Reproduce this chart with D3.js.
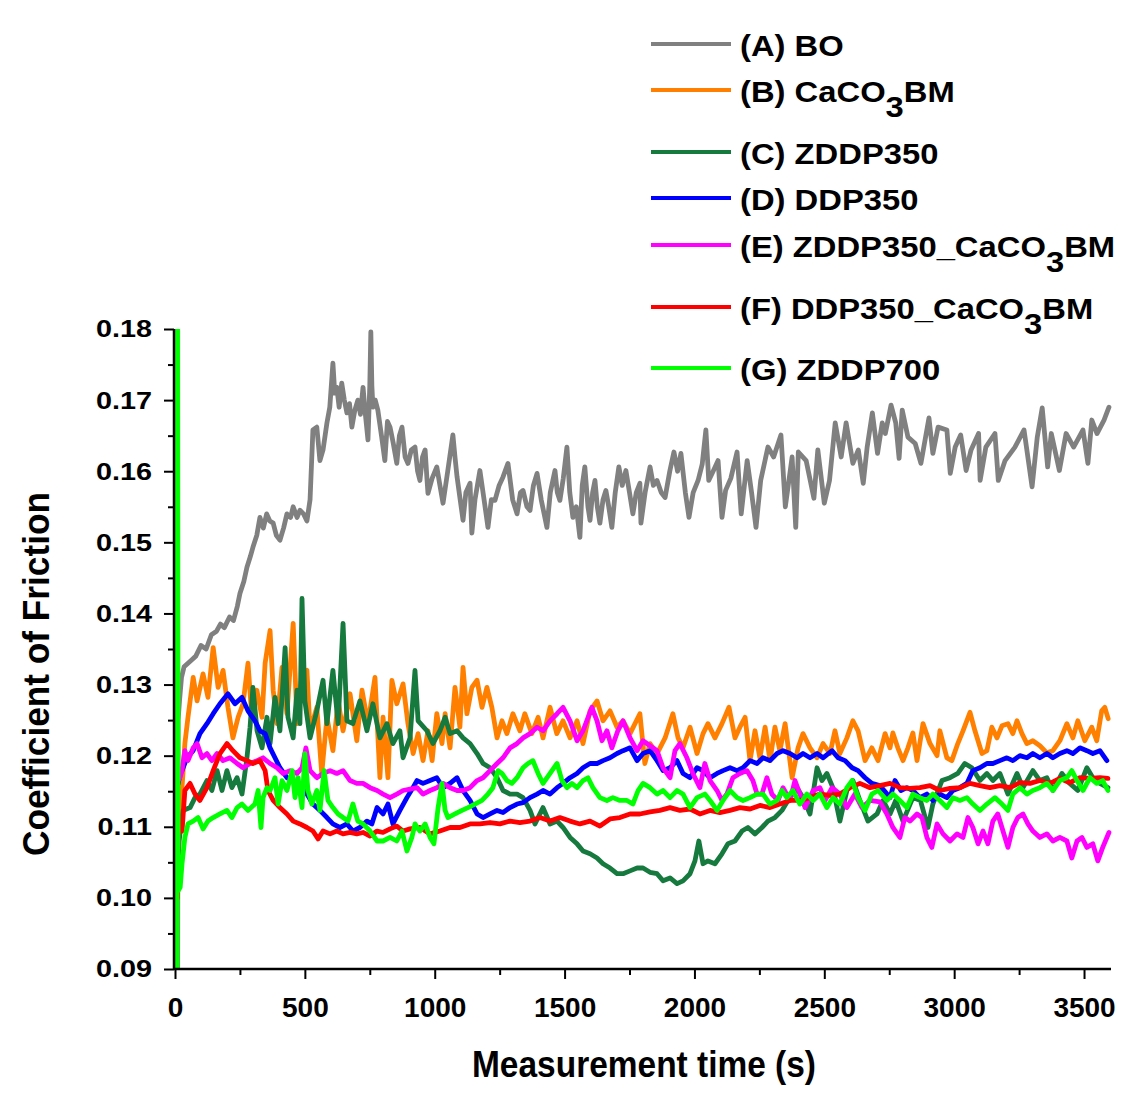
<!DOCTYPE html>
<html>
<head>
<meta charset="utf-8">
<script src="https://cdn.jsdelivr.net/npm/d3@7/dist/d3.min.js"></script>
<style>
  html, body { margin: 0; padding: 0; background: #ffffff; }
  svg { display: block; }
  text { font-family: "Liberation Sans", Arial, sans-serif; font-weight: bold; fill: #000; }
</style>
</head>
<body>
<svg id="chart" width="1135" height="1110"></svg>
<script>
// Coefficient of friction vs. measurement time, [time (s), COF] pairs per oil sample
const seriesBO = [[10,0.088],[12,0.125],[18,0.128],[25,0.131],[35,0.1325],[50,0.133],[65,0.1335],[80,0.134],[100,0.1355],[120,0.135],[140,0.137],[160,0.1375],[175,0.1385],[190,0.138],[210,0.1395],[225,0.139],[240,0.141],[250,0.1428],[265,0.1445],[277,0.1465],[290,0.148],[300,0.1493],[315,0.151],[327,0.1535],[340,0.152],[353,0.154],[365,0.153],[378,0.1527],[390,0.151],[404,0.1503],[418,0.152],[431,0.154],[445,0.1535],[455,0.155],[470,0.1535],[481,0.1545],[495,0.154],[508,0.153],[520,0.156],[531,0.1658],[546,0.1662],[558,0.1615],[570,0.163],[585,0.1668],[596,0.169],[608,0.1752],[615,0.171],[623,0.1718],[632,0.169],[642,0.1724],[652,0.170],[662,0.1682],[672,0.1695],[681,0.1662],[692,0.1685],[704,0.170],[714,0.168],[724,0.1718],[733,0.168],[743,0.1644],[750,0.172],[754,0.1796],[758,0.172],[762,0.169],[771,0.170],[781,0.1686],[795,0.165],[808,0.1615],[818,0.167],[828,0.1662],[840,0.164],[854,0.1611],[864,0.165],[874,0.1662],[886,0.162],[897,0.1611],[910,0.163],[924,0.1634],[934,0.160],[943,0.1587],[953,0.162],[963,0.163],[970,0.159],[974,0.1569],[990,0.159],[1008,0.1606],[1020,0.158],[1032,0.1555],[1050,0.160],[1070,0.1651],[1078,0.162],[1086,0.1592],[1098,0.156],[1109,0.1531],[1120,0.157],[1136,0.1583],[1143,0.1513],[1155,0.156],[1174,0.1601],[1190,0.156],[1205,0.1521],[1218,0.156],[1232,0.1559],[1248,0.158],[1263,0.1592],[1282,0.1611],[1300,0.156],[1317,0.154],[1330,0.157],[1340,0.1573],[1355,0.155],[1367,0.1545],[1380,0.158],[1394,0.1597],[1410,0.156],[1432,0.1521],[1445,0.157],[1463,0.1601],[1472,0.157],[1482,0.1559],[1495,0.159],[1509,0.1634],[1520,0.157],[1532,0.1535],[1545,0.155],[1559,0.1507],[1568,0.158],[1578,0.1606],[1590,0.155],[1598,0.1531],[1608,0.157],[1617,0.1587],[1626,0.155],[1636,0.1527],[1648,0.156],[1659,0.1573],[1670,0.155],[1682,0.1521],[1695,0.157],[1709,0.1606],[1722,0.158],[1736,0.1601],[1750,0.157],[1763,0.154],[1776,0.157],[1790,0.1583],[1794,0.1527],[1810,0.157],[1829,0.1606],[1842,0.158],[1856,0.1587],[1872,0.157],[1887,0.1563],[1905,0.160],[1921,0.1627],[1935,0.160],[1948,0.1625],[1965,0.157],[1979,0.1535],[1995,0.157],[2014,0.1587],[2030,0.161],[2044,0.1658],[2055,0.1587],[2072,0.160],[2091,0.1615],[2106,0.1535],[2120,0.1573],[2140,0.159],[2164,0.1627],[2180,0.154],[2203,0.1615],[2220,0.157],[2237,0.1521],[2255,0.1587],[2283,0.1634],[2305,0.162],[2333,0.1651],[2350,0.155],[2376,0.162],[2390,0.1521],[2400,0.1627],[2430,0.1615],[2460,0.1562],[2475,0.163],[2500,0.1555],[2520,0.1587],[2542,0.1668],[2565,0.162],[2584,0.1668],[2610,0.1611],[2631,0.163],[2650,0.1583],[2665,0.1634],[2685,0.1682],[2705,0.1625],[2723,0.1668],[2735,0.1653],[2757,0.1693],[2775,0.1668],[2788,0.1618],[2800,0.1686],[2822,0.1648],[2850,0.1639],[2872,0.1611],[2903,0.1675],[2918,0.1625],[2938,0.1662],[2972,0.1658],[2985,0.1597],[3004,0.1634],[3025,0.1651],[3046,0.1601],[3065,0.163],[3094,0.1653],[3100,0.1587],[3122,0.1634],[3157,0.1653],[3170,0.1587],[3196,0.1615],[3234,0.1634],[3269,0.1658],[3300,0.1578],[3320,0.1648],[3339,0.1689],[3360,0.1606],[3374,0.1653],[3405,0.1601],[3431,0.1653],[3460,0.1634],[3496,0.1658],[3515,0.1611],[3530,0.1672],[3550,0.1653],[3577,0.1672],[3596,0.169]];

const seriesCaCO3BM = [[12,0.110],[20,0.114],[28,0.116],[38,0.1217],[50,0.1254],[70,0.131],[85,0.1277],[108,0.1315],[127,0.1282],[147,0.1352],[166,0.1296],[185,0.132],[204,0.1268],[223,0.1225],[243,0.1254],[262,0.1273],[281,0.133],[296,0.1254],[315,0.1292],[335,0.1254],[347,0.133],[366,0.1376],[378,0.1292],[393,0.1245],[412,0.1324],[431,0.1259],[455,0.1386],[470,0.1245],[489,0.1315],[508,0.132],[520,0.1235],[546,0.1268],[565,0.1175],[585,0.1254],[608,0.1207],[628,0.1277],[647,0.1235],[674,0.1287],[700,0.1221],[720,0.1292],[743,0.1245],[770,0.131],[789,0.1169],[801,0.1254],[820,0.1169],[835,0.1306],[854,0.1273],[878,0.1301],[897,0.1245],[917,0.1203],[936,0.1231],[955,0.1193],[974,0.1235],[990,0.1193],[1008,0.1259],[1028,0.1217],[1040,0.1259],[1059,0.1211],[1078,0.1296],[1097,0.124],[1109,0.1324],[1124,0.1259],[1143,0.1296],[1163,0.1306],[1182,0.1268],[1201,0.1296],[1220,0.1268],[1240,0.1225],[1259,0.1249],[1278,0.1231],[1301,0.1259],[1328,0.1235],[1347,0.1259],[1374,0.1231],[1398,0.1254],[1417,0.1225],[1444,0.1268],[1470,0.1231],[1494,0.1249],[1521,0.1225],[1548,0.1249],[1571,0.1217],[1598,0.1263],[1625,0.1277],[1648,0.1249],[1675,0.1263],[1702,0.124],[1725,0.1249],[1752,0.1231],[1790,0.1259],[1809,0.1189],[1829,0.1217],[1856,0.1203],[1887,0.1225],[1917,0.1259],[1937,0.1225],[1956,0.1211],[1983,0.124],[2010,0.1203],[2033,0.1231],[2052,0.1245],[2079,0.1225],[2106,0.1245],[2133,0.1268],[2156,0.1225],[2175,0.124],[2195,0.1254],[2214,0.1193],[2233,0.1235],[2252,0.1197],[2272,0.124],[2291,0.1193],[2310,0.124],[2329,0.1207],[2349,0.1245],[2376,0.1169],[2399,0.1211],[2418,0.1231],[2445,0.1211],[2472,0.1197],[2495,0.1217],[2522,0.1203],[2541,0.1235],[2560,0.1203],[2587,0.1225],[2610,0.1249],[2630,0.1235],[2657,0.1193],[2683,0.1211],[2707,0.1193],[2734,0.1231],[2753,0.1211],[2764,0.1232],[2783,0.1211],[2803,0.1193],[2822,0.1211],[2841,0.1232],[2857,0.1193],[2880,0.1245],[2907,0.1217],[2934,0.12],[2945,0.1235],[2972,0.1197],[2991,0.1193],[3014,0.1217],[3034,0.1235],[3061,0.1261],[3080,0.1235],[3107,0.1203],[3126,0.1207],[3145,0.124],[3165,0.1225],[3184,0.1242],[3207,0.1245],[3226,0.1231],[3242,0.1249],[3261,0.1231],[3280,0.1217],[3303,0.1221],[3330,0.1214],[3357,0.1204],[3380,0.1207],[3407,0.1221],[3434,0.1245],[3457,0.1225],[3476,0.1249],[3503,0.1221],[3530,0.124],[3549,0.1221],[3568,0.1263],[3580,0.1268],[3593,0.1252]];

const seriesZDDP350 = [[12,0.104],[16,0.108],[22,0.110],[31,0.1123],[58,0.1127],[77,0.1141],[96,0.1146],[123,0.1165],[142,0.1151],[162,0.1179],[181,0.1151],[200,0.1179],[219,0.1155],[239,0.1169],[258,0.1146],[277,0.1197],[289,0.124],[300,0.1296],[316,0.1235],[335,0.1211],[354,0.1254],[366,0.1217],[385,0.1282],[404,0.1235],[424,0.1352],[435,0.1254],[455,0.1225],[470,0.1292],[481,0.1245],[489,0.1421],[500,0.1277],[520,0.1225],[546,0.1263],[570,0.1306],[585,0.1245],[608,0.132],[628,0.1245],[647,0.1386],[662,0.1249],[685,0.1245],[712,0.1277],[739,0.1235],[762,0.1273],[789,0.1225],[816,0.1245],[839,0.1217],[866,0.1235],[878,0.1197],[905,0.1225],[924,0.132],[936,0.1249],[970,0.1235],[993,0.1217],[1020,0.1235],[1040,0.1254],[1059,0.1231],[1086,0.1235],[1109,0.1225],[1136,0.1217],[1163,0.1203],[1186,0.1189],[1213,0.1183],[1240,0.1169],[1263,0.1151],[1290,0.1146],[1317,0.1146],[1340,0.1141],[1367,0.1123],[1386,0.1104],[1417,0.1127],[1444,0.1104],[1471,0.1108],[1494,0.1099],[1521,0.1085],[1548,0.1076],[1571,0.1066],[1598,0.1062],[1625,0.1056],[1648,0.1048],[1675,0.1042],[1702,0.1034],[1725,0.1034],[1752,0.1038],[1779,0.1042],[1802,0.1042],[1829,0.1036],[1856,0.1034],[1879,0.1024],[1906,0.1028],[1933,0.102],[1956,0.1024],[1983,0.1034],[2002,0.1052],[2017,0.108],[2033,0.1048],[2052,0.1052],[2079,0.1048],[2106,0.1062],[2129,0.1076],[2156,0.108],[2183,0.1094],[2206,0.1099],[2233,0.109],[2260,0.1099],[2283,0.1108],[2310,0.1113],[2337,0.1123],[2360,0.1137],[2395,0.1155],[2418,0.1141],[2445,0.1118],[2472,0.1183],[2491,0.1165],[2510,0.1175],[2533,0.1155],[2560,0.1108],[2587,0.1151],[2610,0.1165],[2637,0.1137],[2668,0.1108],[2703,0.1118],[2726,0.1137],[2753,0.1118],[2775,0.1137],[2803,0.1108],[2841,0.1141],[2870,0.1137],[2899,0.1099],[2918,0.1132],[2953,0.1165],[2984,0.1169],[3014,0.1175],[3041,0.1189],[3068,0.1183],[3099,0.1165],[3126,0.1175],[3149,0.1165],[3176,0.1175],[3207,0.1146],[3242,0.1175],[3265,0.1155],[3303,0.1179],[3330,0.1165],[3357,0.1169],[3380,0.1151],[3415,0.1175],[3445,0.1161],[3476,0.1151],[3511,0.1183],[3534,0.1169],[3561,0.1161],[3592,0.1155]];

const seriesDDP350 = [[12,0.116],[20,0.1175],[27,0.1179],[46,0.1197],[70,0.1207],[96,0.1231],[123,0.1245],[147,0.1259],[173,0.1273],[204,0.1287],[231,0.1273],[258,0.1282],[281,0.1263],[308,0.1249],[327,0.1235],[347,0.1231],[366,0.1211],[385,0.1197],[404,0.1183],[431,0.1169],[455,0.1165],[481,0.1161],[508,0.1146],[531,0.1132],[558,0.1123],[585,0.1113],[608,0.1104],[635,0.1099],[662,0.1104],[685,0.1094],[712,0.1099],[739,0.1108],[758,0.1104],[778,0.1127],[801,0.1118],[820,0.1132],[839,0.1104],[866,0.1123],[893,0.1141],[916,0.1155],[932,0.1165],[955,0.1161],[982,0.1165],[1008,0.1169],[1032,0.1155],[1059,0.1161],[1086,0.1169],[1109,0.1151],[1136,0.1137],[1163,0.1118],[1186,0.1113],[1213,0.1118],[1240,0.1123],[1263,0.112],[1290,0.1127],[1317,0.1132],[1340,0.1134],[1367,0.1141],[1394,0.1146],[1417,0.1151],[1444,0.1146],[1471,0.1155],[1494,0.1161],[1521,0.1169],[1548,0.1175],[1571,0.1183],[1598,0.1189],[1625,0.1189],[1648,0.1193],[1675,0.1197],[1702,0.1203],[1725,0.1207],[1752,0.1211],[1779,0.1193],[1802,0.1203],[1829,0.1207],[1856,0.1193],[1879,0.1179],[1906,0.1183],[1933,0.1193],[1956,0.1175],[1983,0.1169],[2010,0.1183],[2033,0.1179],[2060,0.1169],[2087,0.1175],[2110,0.1179],[2137,0.1183],[2164,0.1179],[2187,0.1183],[2214,0.1193],[2241,0.1189],[2264,0.1197],[2291,0.1193],[2318,0.1203],[2341,0.1207],[2368,0.1203],[2395,0.1197],[2418,0.1203],[2445,0.1197],[2472,0.1203],[2495,0.1197],[2530,0.1207],[2553,0.1197],[2580,0.1193],[2607,0.1183],[2630,0.1179],[2657,0.1169],[2683,0.1161],[2714,0.1158],[2753,0.1141],[2772,0.1165],[2795,0.1151],[2818,0.1155],[2841,0.1151],[2868,0.1141],[2895,0.1146],[2918,0.1137],[2945,0.1146],[2972,0.1141],[2995,0.1151],[3022,0.1155],[3049,0.1161],[3072,0.1179],[3099,0.1183],[3126,0.1189],[3149,0.1189],[3176,0.1193],[3203,0.1197],[3226,0.1193],[3253,0.12],[3280,0.1197],[3303,0.1203],[3330,0.1197],[3357,0.1203],[3380,0.1197],[3407,0.1203],[3434,0.1207],[3457,0.1203],[3484,0.1211],[3511,0.1207],[3534,0.1203],[3561,0.1207],[3588,0.1193]];

const seriesZDDP350CaCO3BM = [[12,0.1165],[20,0.117],[27,0.1179],[38,0.1207],[50,0.1193],[70,0.1211],[85,0.1217],[104,0.1197],[123,0.1203],[142,0.1193],[162,0.1203],[185,0.1193],[212,0.1197],[239,0.1189],[262,0.1183],[289,0.1189],[316,0.1193],[339,0.1197],[366,0.1189],[393,0.1183],[416,0.1175],[443,0.1179],[470,0.1175],[489,0.1183],[504,0.1211],[520,0.1179],[546,0.1169],[570,0.1175],[597,0.1179],[623,0.1175],[647,0.1179],[674,0.1165],[700,0.1161],[724,0.1161],[751,0.1155],[778,0.1151],[801,0.1146],[828,0.1141],[854,0.1146],[878,0.1151],[905,0.1153],[932,0.1155],[955,0.1146],[982,0.1151],[1008,0.1155],[1032,0.1161],[1059,0.1155],[1086,0.1151],[1109,0.1151],[1136,0.1155],[1163,0.1165],[1186,0.1169],[1213,0.1179],[1240,0.1189],[1263,0.1197],[1290,0.1211],[1317,0.1217],[1340,0.1225],[1367,0.1231],[1394,0.124],[1417,0.1235],[1444,0.1249],[1471,0.1259],[1494,0.1268],[1521,0.1249],[1548,0.1221],[1571,0.1235],[1605,0.1268],[1625,0.1249],[1644,0.1221],[1663,0.1235],[1682,0.1211],[1705,0.1235],[1725,0.1249],[1752,0.1225],[1779,0.1207],[1802,0.1221],[1829,0.1214],[1856,0.1207],[1879,0.1183],[1906,0.1169],[1925,0.1207],[1944,0.1217],[1971,0.1197],[1994,0.1175],[2021,0.1155],[2040,0.1189],[2060,0.1165],[2087,0.1151],[2106,0.1137],[2125,0.1146],[2148,0.1169],[2175,0.1175],[2202,0.1179],[2225,0.1165],[2241,0.1146],[2260,0.1146],[2279,0.1169],[2298,0.1146],[2322,0.1137],[2341,0.1155],[2368,0.1137],[2387,0.1165],[2406,0.1146],[2426,0.1127],[2457,0.1151],[2483,0.1155],[2503,0.1137],[2530,0.1155],[2560,0.1146],[2587,0.1127],[2618,0.1146],[2645,0.1127],[2676,0.1137],[2714,0.1135],[2741,0.1118],[2764,0.1099],[2791,0.1085],[2810,0.1113],[2830,0.1108],[2857,0.1118],[2876,0.1113],[2895,0.1085],[2914,0.1071],[2934,0.1104],[2957,0.109],[2984,0.108],[3011,0.109],[3034,0.1085],[3053,0.1113],[3072,0.1099],[3092,0.1076],[3111,0.1094],[3130,0.1076],[3149,0.1108],[3168,0.1118],[3188,0.1094],[3207,0.1071],[3226,0.1099],[3245,0.1113],[3265,0.1118],[3284,0.1104],[3303,0.1094],[3330,0.1085],[3357,0.109],[3380,0.108],[3407,0.1085],[3434,0.108],[3453,0.1056],[3473,0.108],[3492,0.1085],[3511,0.1071],[3534,0.1076],[3553,0.1052],[3572,0.1071],[3596,0.1092]];

const seriesDDP350CaCO3BM = [[10,0.100],[12,0.1095],[20,0.110],[27,0.1094],[38,0.1151],[58,0.1161],[77,0.1146],[96,0.1137],[123,0.1155],[147,0.1179],[173,0.1203],[200,0.1217],[223,0.1207],[250,0.1197],[277,0.1193],[300,0.1189],[327,0.1193],[347,0.1179],[358,0.1151],[378,0.1137],[404,0.1127],[431,0.1118],[455,0.1108],[481,0.1104],[508,0.1099],[531,0.1094],[551,0.1083],[570,0.1094],[597,0.109],[623,0.1094],[647,0.109],[674,0.1092],[700,0.109],[724,0.1092],[751,0.1087],[778,0.1094],[801,0.1092],[828,0.1097],[854,0.1101],[878,0.1094],[905,0.1097],[943,0.1099],[982,0.109],[1020,0.1094],[1059,0.1099],[1097,0.1099],[1136,0.1104],[1174,0.1104],[1213,0.1106],[1251,0.1104],[1290,0.1108],[1328,0.1106],[1367,0.1108],[1405,0.1113],[1444,0.1108],[1482,0.1113],[1521,0.1108],[1559,0.1104],[1598,0.1108],[1636,0.1101],[1675,0.1111],[1713,0.1113],[1752,0.1118],[1790,0.1118],[1829,0.1121],[1867,0.1123],[1906,0.1127],[1944,0.1123],[1983,0.1125],[2021,0.1118],[2060,0.1123],[2098,0.112],[2137,0.1123],[2175,0.1127],[2214,0.1125],[2252,0.113],[2291,0.1127],[2329,0.1132],[2368,0.1137],[2406,0.1137],[2445,0.1141],[2483,0.1146],[2522,0.1144],[2560,0.1146],[2599,0.1155],[2637,0.1161],[2676,0.1155],[2714,0.1158],[2753,0.1161],[2791,0.1155],[2830,0.1154],[2868,0.1155],[2907,0.1158],[2945,0.1151],[2984,0.1154],[3022,0.1155],[3061,0.1161],[3099,0.1158],[3138,0.1155],[3176,0.1158],[3215,0.1155],[3253,0.1162],[3292,0.1161],[3330,0.1165],[3369,0.1161],[3407,0.1168],[3445,0.1162],[3484,0.1169],[3523,0.1168],[3561,0.1169],[3592,0.1168]];

const seriesZDDP700 = [[8,0.085],[10,0.19],[12,0.101],[20,0.1015],[27,0.1048],[38,0.1085],[50,0.1104],[70,0.1108],[89,0.1113],[108,0.1097],[127,0.1108],[147,0.1113],[173,0.1118],[200,0.1123],[219,0.1113],[239,0.1127],[258,0.1132],[281,0.1123],[308,0.1132],[320,0.1151],[331,0.1099],[339,0.1141],[354,0.1155],[366,0.1151],[385,0.1169],[397,0.1132],[412,0.1165],[431,0.1151],[451,0.1179],[462,0.1141],[474,0.1169],[489,0.1127],[500,0.1203],[512,0.1151],[527,0.1132],[546,0.1151],[558,0.1123],[574,0.1179],[589,0.1137],[608,0.1127],[628,0.1118],[647,0.1113],[666,0.1108],[685,0.1132],[704,0.1108],[724,0.1104],[751,0.1094],[778,0.108],[801,0.108],[828,0.1085],[854,0.108],[874,0.1094],[893,0.1066],[912,0.1085],[924,0.1104],[943,0.1094],[963,0.1104],[982,0.1085],[997,0.1076],[1013,0.1127],[1028,0.1161],[1040,0.1123],[1051,0.1113],[1078,0.1118],[1105,0.1123],[1128,0.1127],[1155,0.1132],[1182,0.1137],[1205,0.1146],[1224,0.1155],[1244,0.1179],[1259,0.1175],[1278,0.1165],[1297,0.1161],[1317,0.1169],[1340,0.1183],[1359,0.1189],[1378,0.1193],[1398,0.1175],[1417,0.1161],[1444,0.1175],[1471,0.1189],[1490,0.1165],[1509,0.1155],[1528,0.1161],[1548,0.1155],[1571,0.1165],[1590,0.1169],[1609,0.1155],[1636,0.1141],[1663,0.1137],[1686,0.1141],[1713,0.1137],[1740,0.1137],[1763,0.1132],[1783,0.1151],[1802,0.1161],[1829,0.1155],[1856,0.1146],[1879,0.1151],[1906,0.1141],[1933,0.1151],[1956,0.1146],[1983,0.1127],[2010,0.1141],[2040,0.1146],[2060,0.1137],[2087,0.1123],[2110,0.1137],[2137,0.1151],[2164,0.1141],[2187,0.1137],[2214,0.1141],[2241,0.1146],[2264,0.1146],[2291,0.1132],[2318,0.1137],[2337,0.1151],[2356,0.1141],[2379,0.1151],[2406,0.1132],[2433,0.1146],[2457,0.1137],[2483,0.1146],[2510,0.1127],[2533,0.1141],[2560,0.1132],[2587,0.1155],[2607,0.1165],[2630,0.1141],[2657,0.1123],[2683,0.1146],[2707,0.1151],[2741,0.1137],[2764,0.1146],[2791,0.1137],[2818,0.1127],[2841,0.1146],[2868,0.1141],[2895,0.1137],[2918,0.1146],[2945,0.1137],[2972,0.1127],[2995,0.1141],[3022,0.1137],[3049,0.1141],[3072,0.1132],[3099,0.1123],[3126,0.1132],[3157,0.1141],[3184,0.1132],[3207,0.1123],[3226,0.1146],[3253,0.1155],[3280,0.1146],[3303,0.1151],[3330,0.1155],[3357,0.1161],[3380,0.1151],[3407,0.1165],[3434,0.1169],[3453,0.1179],[3473,0.1165],[3496,0.1151],[3523,0.1169],[3549,0.1161],[3572,0.1165],[3592,0.1151]];

const seriesNames = ["(A) BO", "(B) CaCO3BM", "(C) ZDDP350", "(D) DDP350",
                     "(E) ZDDP350_CaCO3BM", "(F) DDP350_CaCO3BM", "(G) ZDDP700"];
const seriesData = [seriesBO, seriesCaCO3BM, seriesZDDP350, seriesDDP350,
                    seriesZDDP350CaCO3BM, seriesDDP350CaCO3BM, seriesZDDP700];
const seriesColors = ["#808080", "#ff8000", "#167a3e", "#0000ff", "#ff00ff", "#ff0000", "#00ff00"];

const xTicks = [0, 500, 1000, 1500, 2000, 2500, 3000, 3500];
const xMinorTicks = [250, 750, 1250, 1750, 2250, 2750, 3250];
const yTicks = [0.09, 0.10, 0.11, 0.12, 0.13, 0.14, 0.15, 0.16, 0.17, 0.18];
const yMinorTicks = [0.095, 0.105, 0.115, 0.125, 0.135, 0.145, 0.155, 0.165, 0.175];

const xTitle = "Measurement time (s)";
const yTitle = "Coefficient of Friction";

// ---- layout ----
const svg = d3.select("#chart");
const x = d3.scaleLinear().domain([0, 3600]).range([175, 1110]);
const y = d3.scaleLinear().domain([0.09, 0.18]).range([969, 329]);
const axisX0 = 174;   // y-axis line position
const legendRowY = [44, 90, 152, 198, 245, 307, 368];

// clip region for the traces
svg.append("defs").append("clipPath").attr("id", "plotClip")
  .append("rect").attr("x", axisX0).attr("y", y(0.18))
  .attr("width", 1116 - axisX0).attr("height", y(0.09) - y(0.18));

// ---- traces ----
const line = d3.line().x(d => x(d[0])).y(d => y(d[1]));
const traces = svg.append("g").attr("clip-path", "url(#plotClip)");
seriesData.forEach((data, i) => {
  traces.append("path")
    .datum(data)
    .attr("d", line)
    .attr("fill", "none")
    .attr("stroke", seriesColors[i])
    .attr("stroke-width", 4.8)
    .attr("stroke-linejoin", "round")
    .attr("stroke-linecap", "round");
});

// ---- axes ----
function styleAxis(g) {
  g.selectAll("path.domain").attr("stroke", "#000").attr("stroke-width", 2.5);
  g.selectAll(".tick line").attr("stroke", "#000").attr("stroke-width", 2);
}

// x axis (minor then major)
svg.append("g").attr("transform", `translate(0,${y(0.09)})`)
  .call(d3.axisBottom(x).tickValues(xMinorTicks).tickSize(6).tickSizeOuter(0).tickFormat(""))
  .call(styleAxis)
  .call(g => g.select("path.domain").attr("d", `M${axisX0},0H1111`));
const gx = svg.append("g").attr("transform", `translate(0,${y(0.09)})`)
  .call(d3.axisBottom(x).tickValues(xTicks).tickSize(10).tickSizeOuter(0).tickPadding(18).tickFormat(d3.format("d")))
  .call(styleAxis)
  .call(g => g.select("path.domain").remove());
gx.selectAll(".tick text")
  .attr("font-size", 28)
  .attr("font-family", "'Liberation Sans', Arial, sans-serif")
  .attr("font-weight", "bold")
  .attr("fill", "#000");

// y axis (minor then major)
svg.append("g").attr("transform", `translate(${axisX0},0)`)
  .call(d3.axisLeft(y).tickValues(yMinorTicks).tickSize(6).tickSizeOuter(0).tickFormat(""))
  .call(styleAxis)
  .call(g => g.select("path.domain").attr("d", `M0,${y(0.09) + 1}V${y(0.18)}`));
const gy = svg.append("g").attr("transform", `translate(${axisX0},0)`)
  .call(d3.axisLeft(y).tickValues(yTicks).tickSize(10).tickSizeOuter(0).tickFormat(d3.format(".2f")))
  .call(styleAxis)
  .call(g => g.select("path.domain").remove());
gy.selectAll(".tick text")
  .attr("font-size", 24)
  .attr("font-family", "'Liberation Sans', Arial, sans-serif")
  .attr("font-weight", "bold")
  .attr("fill", "#000")
  .attr("x", -22 / 1.2)
  .attr("dy", "0.33em")
  .attr("transform", "scale(1.2,1)");

// axis titles
svg.append("text")
  .attr("x", 644).attr("y", 1077)
  .attr("text-anchor", "middle")
  .attr("font-size", 37)
  .attr("textLength", 344).attr("lengthAdjust", "spacingAndGlyphs")
  .text(xTitle);

svg.append("text")
  .attr("transform", "translate(49,674) rotate(-90)")
  .attr("text-anchor", "middle")
  .attr("font-size", 36)
  .attr("textLength", 364).attr("lengthAdjust", "spacingAndGlyphs")
  .text(yTitle);

// ---- legend ----
const legend = svg.append("g");
seriesNames.forEach((name, i) => {
  const ly = legendRowY[i];
  legend.append("line")
    .attr("x1", 651).attr("x2", 731).attr("y1", ly).attr("y2", ly)
    .attr("stroke", seriesColors[i]).attr("stroke-width", 4);
  const t = legend.append("text")
    .attr("transform", `translate(740,${ly + 12}) scale(1.13,1)`)
    .attr("font-size", 29);
  // "CO3" is written with a subscript 3
  const parts = name.split("CO3");
  parts.forEach((p, k) => {
    if (k > 0) {
      t.append("tspan").text("CO");
      t.append("tspan").attr("dy", 15).text("3");
      t.append("tspan").attr("dy", -15).text(p);
    } else {
      t.append("tspan").text(p);
    }
  });
});
</script>
</body>
</html>
